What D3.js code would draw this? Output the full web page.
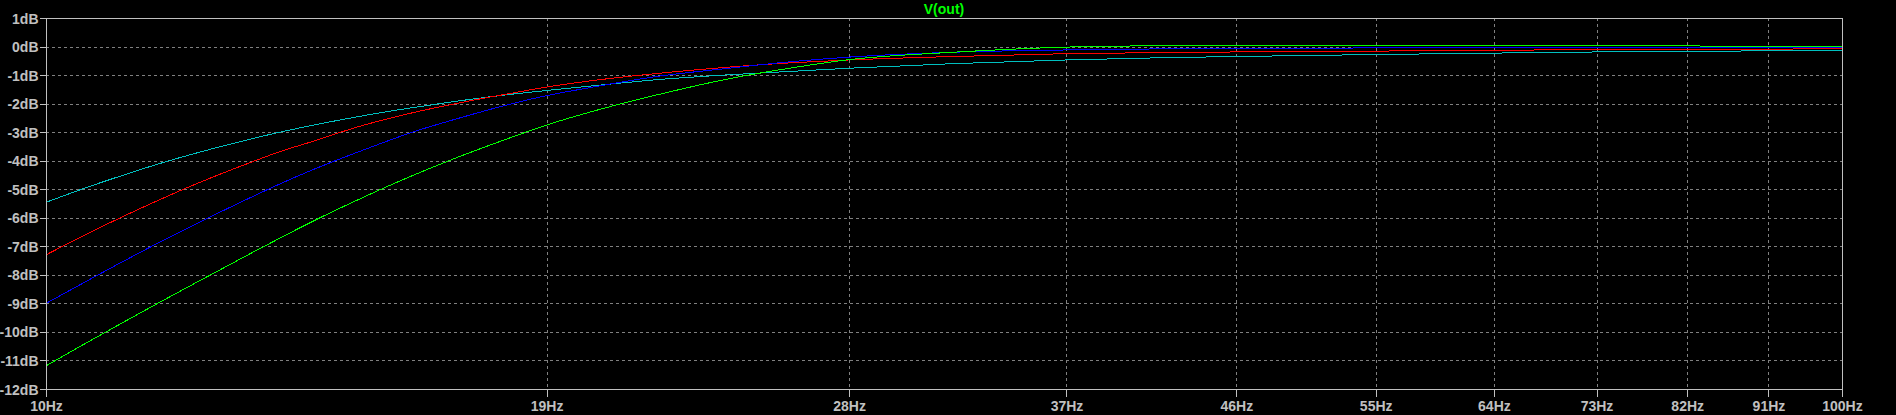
<!DOCTYPE html>
<html>
<head>
<meta charset="utf-8">
<script src="https://cdn.jsdelivr.net/npm/d3@7/dist/d3.min.js"></script>
<style>
  html, body { margin: 0; padding: 0; background: #000; }
  svg { display: block; }
  text { font-family: "Liberation Sans", Arial, sans-serif; font-weight: bold; font-size: 14px; fill: #c0c0c0; }
</style>
</head>
<body>
<script>
// ---- data ----
const title = "V(out)";
const freqs   = [10, 10.5, 11, 11.5, 12, 13, 13.5, 14, 15, 16, 17, 18, 19, 20, 22, 24, 26, 28, 32, 37, 42, 46, 55, 64, 73, 82, 91, 100];
const cyanDb  = [-5.46, -4.97, -4.54, -4.15, -3.81, -3.24, -3.00, -2.79, -2.43, -2.14, -1.90, -1.70, -1.54, -1.40, -1.15, -0.99, -0.87, -0.76, -0.60, -0.47, -0.39, -0.35, -0.28, -0.23, -0.19, -0.17, -0.15, -0.14];
const redDb   = [-7.30, -6.62, -6.00, -5.44, -4.93, -4.06, -3.68, -3.37, -2.77, -2.32, -1.97, -1.68, -1.42, -1.22, -0.93, -0.72, -0.57, -0.47, -0.35, -0.25, -0.21, -0.19, -0.16, -0.13, -0.11, -0.10, -0.09, -0.08];
const blueDb  = [-9.00, -8.27, -7.58, -6.94, -6.35, -5.29, -4.81, -4.38, -3.64, -3.00, -2.50, -2.07, -1.72, -1.46, -1.03, -0.76, -0.53, -0.37, -0.20, -0.12, -0.08, -0.06, -0.05, -0.05, -0.04, -0.04, -0.04, -0.04];
const greenDb = [-11.19, -10.43, -9.72, -9.05, -8.42, -7.25, -6.71, -6.20, -5.30, -4.52, -3.85, -3.27, -2.75, -2.33, -1.66, -1.13, -0.75, -0.46, -0.20, -0.02, 0.03, 0.04, 0.05, 0.05, 0.04, 0.02, 0.01, 0.00];
const xTicks = [10, 19, 28, 37, 46, 55, 64, 73, 82, 91, 100];
const yTicks = [1, 0, -1, -2, -3, -4, -5, -6, -7, -8, -9, -10, -11, -12];
const seriesNames = ["cyan", "red", "blue", "green"];
const seriesColors = ["#00bfbf", "#ff0000", "#0000ff", "#00ff00"];
const seriesValues = [cyanDb, redDb, blueDb, greenDb];

// ---- layout ----
const W = 1896, H = 415;
const mLeft = 46, mRight = 1842, mTop = 18, mBottom = 389;

const svg = d3.select("body").append("svg").attr("width", W).attr("height", H);
svg.append("rect").attr("width", W).attr("height", H).attr("fill", "#000");

const x = d3.scaleLog().domain([10, 100]).range([mLeft, mRight]);
const y = d3.scaleLinear().domain([-12, 1]).range([mBottom, mTop]);

// grid
const grid = svg.append("g").attr("shape-rendering", "crispEdges");
grid.selectAll("line.h").data(yTicks.filter(v => v !== 1 && v !== -12)).join("line")
  .attr("x1", mLeft).attr("x2", mRight)
  .attr("y1", d => Math.round(y(d)) + 0.5).attr("y2", d => Math.round(y(d)) + 0.5)
  .attr("stroke", "#808080").attr("stroke-dasharray", "3,3");
grid.selectAll("line.v").data(xTicks.filter(v => v !== 10 && v !== 100)).join("line")
  .attr("y1", mTop).attr("y2", mBottom)
  .attr("x1", d => Math.round(x(d)) + 0.5).attr("x2", d => Math.round(x(d)) + 0.5)
  .attr("stroke", "#808080").attr("stroke-dasharray", "3,3");

// traces
const line = d3.line().x(d => x(d[0])).y(d => y(d[1])).curve(d3.curveMonotoneX);
seriesValues.forEach((vals, i) => {
  svg.append("path")
    .datum(freqs.map((f, j) => [f, vals[j]]))
    .attr("fill", "none")
    .attr("stroke", seriesColors[i])
    .attr("stroke-width", 1)
    .attr("shape-rendering", "crispEdges")
    .attr("d", line);
});

// axes
const xAxis = d3.axisBottom(x).tickValues(xTicks).tickFormat(d => d + "Hz").tickSize(7).tickSizeOuter(0);
const gx = svg.append("g").attr("transform", `translate(0,${mBottom + 0.5})`).call(xAxis);
const yAxis = d3.axisLeft(y).tickValues(yTicks).tickFormat(d => d + "dB").tickSize(7).tickSizeOuter(0);
const gy = svg.append("g").attr("transform", `translate(${mLeft + 0.5},0)`).call(yAxis);
[gx, gy].forEach(g => {
  g.selectAll("path.domain").remove();
  g.selectAll("line").attr("stroke", "#c0c0c0").attr("shape-rendering", "crispEdges");
  g.selectAll("text").attr("fill", "#c0c0c0").style("font-family", '"Liberation Sans", Arial, sans-serif')
    .style("font-weight", "bold").style("font-size", "14px");
});
gx.selectAll("text").attr("dy", null).attr("y", 21);
gy.selectAll("text").attr("x", -8).attr("dy", "0.36em");

// frame
svg.append("rect").attr("x", mLeft + 0.5).attr("y", mTop + 0.5)
  .attr("width", mRight - mLeft).attr("height", mBottom - mTop)
  .attr("fill", "none").attr("stroke", "#c0c0c0").attr("shape-rendering", "crispEdges");

// title
svg.append("text").attr("x", (mLeft + mRight) / 2).attr("y", 14).attr("text-anchor", "middle")
  .style("fill", "#00ff00").text(title);
</script>
</body>
</html>
